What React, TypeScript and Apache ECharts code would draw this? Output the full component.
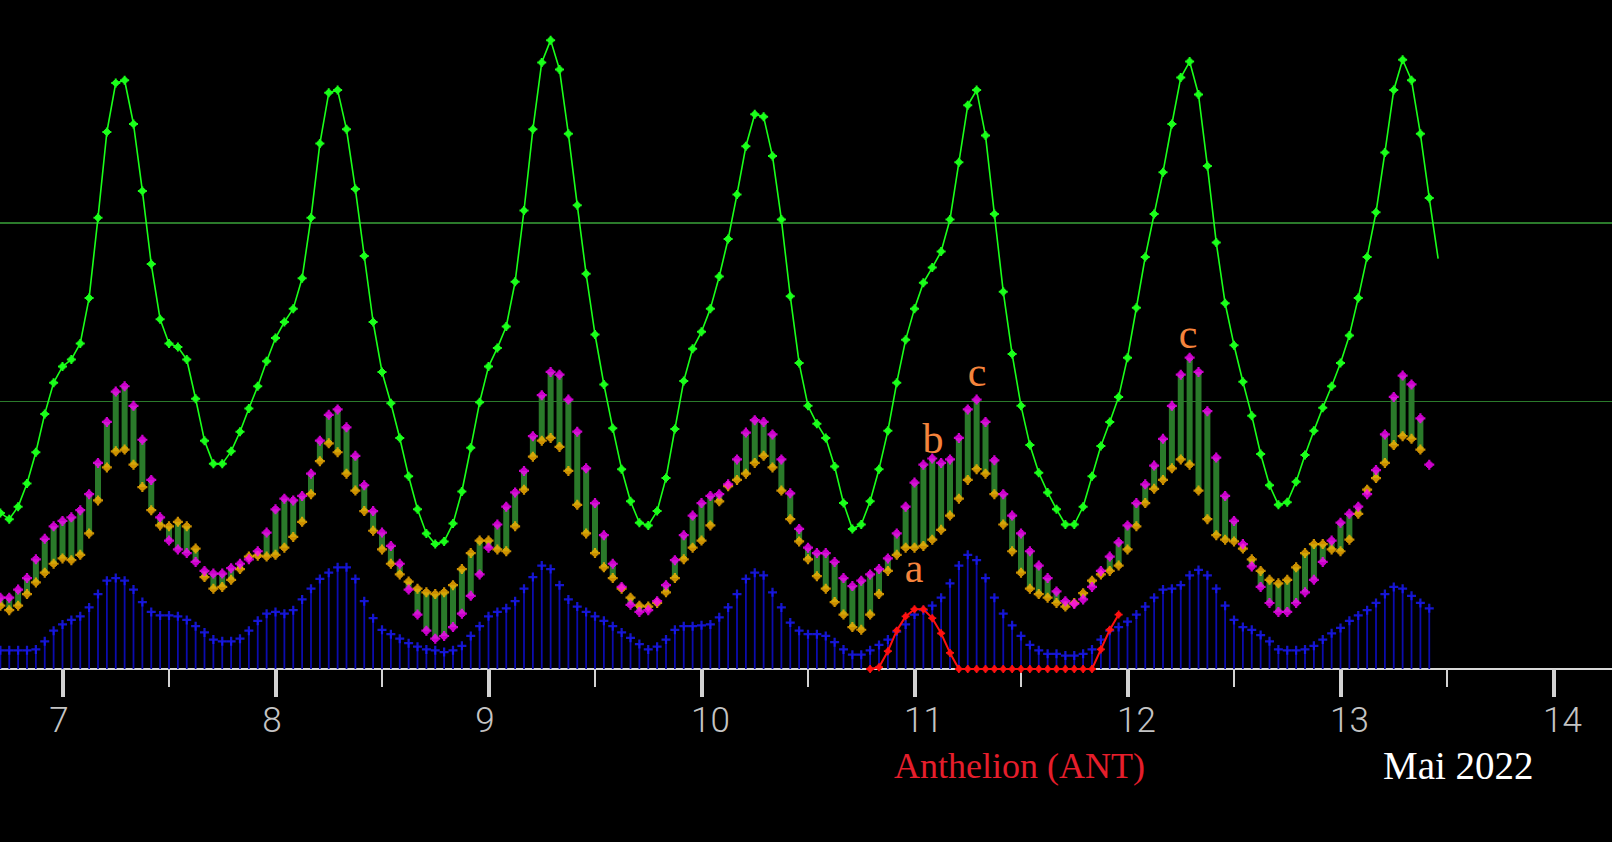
import React, { useEffect, useRef } from 'react';
import * as echarts from 'echarts';

// hourly samples, the first one at 6 May 17:00
const START_DAY = 6 + 17 / 24;
const STEP = 1 / 24;

const greenValues = [
  17.5, 16.8, 18.2, 20.8, 24.3, 28.6, 32.1, 33.9, 34.7, 36.5,
  41.6, 50.6, 60.2, 65.7, 66.0, 61.1, 53.6, 45.4, 39.2, 36.5,
  36.1, 34.7, 30.3, 25.6, 23.0, 23.0, 24.4, 26.6, 29.2, 31.7,
  34.5, 37.1, 38.9, 40.4, 43.8, 50.6, 58.9, 64.6, 64.9, 60.5,
  53.8, 46.3, 38.9, 33.3, 29.8, 25.9, 21.6, 17.9, 15.2, 14.0,
  14.3, 16.3, 19.9, 24.8, 29.9, 33.9, 36.0, 38.4, 43.4, 51.4,
  60.5, 68.0, 70.5, 67.2, 60.0, 52.0, 44.3, 37.5, 31.9, 27.0,
  22.4, 18.8, 16.4, 16.1, 17.7, 21.4, 26.9, 32.3, 35.9, 37.8,
  40.4, 44.0, 48.2, 53.2, 58.6, 62.2, 61.9, 57.5, 50.4, 41.8,
  34.3, 29.5, 27.5, 25.9, 22.7, 18.6, 15.7, 16.2, 18.8, 22.4,
  26.7, 32.1, 36.9, 40.4, 43.3, 45.0, 46.8, 50.4, 56.8, 63.2,
  64.9, 59.8, 51.0, 42.3, 35.3, 29.5, 25.1, 22.0, 19.8, 17.9,
  16.2, 16.2, 18.2, 21.6, 25.0, 27.7, 30.5, 34.9, 40.5, 46.2,
  51.0, 55.7, 61.1, 66.3, 68.1, 64.4, 56.4, 47.8, 41.0, 36.3,
  32.2, 28.4, 24.1, 20.6, 18.4, 18.7, 21.0, 24.0, 26.7, 29.3,
  31.7, 34.3, 37.4, 41.6, 46.2, 51.2, 57.9, 64.9, 68.3, 66.0,
  60.0, 52.8, 46.0,
];

const magentaValues = [
  8.0, 8.0, 8.9, 10.2, 12.3, 14.6, 16.0, 16.6, 17.0, 17.8,
  19.6, 23.1, 27.7, 31.1, 31.7, 29.5, 25.7, 21.2, 17.0, 14.4,
  13.4, 13.0, 12.0, 11.0, 10.7, 10.7, 11.3, 11.8, 12.3, 13.2,
  15.3, 17.9, 19.1, 18.9, 19.4, 21.9, 25.6, 28.5, 29.1, 27.1,
  23.9, 20.6, 17.7, 15.3, 13.8, 11.8, 8.9, 6.1, 4.3, 3.4,
  3.7, 4.7, 6.2, 8.2, 10.6, 13.6, 16.2, 18.2, 19.8, 22.2,
  26.1, 30.7, 33.3, 33.0, 30.2, 26.6, 22.5, 18.6, 15.0, 11.8,
  9.2, 7.2, 6.4, 6.6, 7.6, 9.4, 12.2, 15.0, 17.2, 18.6,
  19.4, 19.6, 20.7, 23.5, 26.5, 27.9, 27.7, 26.3, 23.5, 19.7,
  15.7, 13.6, 13.0, 13.0, 12.0, 10.2, 9.3, 9.9, 10.6, 11.2,
  12.4, 15.2, 18.2, 20.9, 22.9, 23.6, 23.1, 23.5, 25.9, 29.1,
  30.2, 27.7, 23.4, 19.6, 17.2, 15.2, 13.2, 11.6, 10.2, 8.7,
  7.6, 7.3, 7.8, 9.2, 11.0, 12.6, 14.2, 16.1, 18.6, 20.7,
  22.8, 25.8, 29.5, 33.0, 34.9, 33.3, 28.9, 23.7, 19.4, 16.6,
  14.0, 11.5, 9.2, 7.4, 6.4, 6.4, 7.4, 8.6, 10.0, 12.0,
  14.4, 16.4, 17.4, 18.2, 19.6, 22.3, 26.3, 30.5, 32.9, 31.9,
  28.1, 22.9,
];

const orangeValues: (number | null)[] = [
  7.1, 6.6, 7.1, 8.4, 9.7, 10.8, 11.8, 12.4, 12.2, 12.8,
  15.2, 18.9, 22.6, 24.4, 24.6, 22.9, 20.4, 17.8, 16.1, 16.0,
  16.5, 16.0, 13.5, 10.3, 9.0, 9.2, 10.0, 11.2, 12.6, 12.7,
  12.6, 12.8, 13.6, 14.8, 16.5, 19.6, 23.3, 25.3, 24.3, 21.9,
  20.0, 17.7, 15.5, 13.4, 11.8, 10.6, 9.8, 9.0, 8.6, 8.4,
  8.6, 9.4, 11.2, 13.0, 14.4, 14.4, 13.4, 13.2, 16.0, 20.1,
  23.8, 25.6, 25.9, 24.9, 22.2, 18.4, 15.2, 13.0, 11.4, 10.2,
  9.0, 8.0, 7.1, 7.0, 7.4, 8.6, 10.2, 12.3, 13.6, 14.4,
  16.1, 18.8, 20.5, 21.2, 21.9, 23.1, 23.9, 22.6, 20.0, 16.8,
  14.3, 12.3, 10.4, 9.0, 7.5, 6.1, 4.7, 4.4, 6.1, 8.4,
  11.0, 12.8, 13.6, 13.6, 13.8, 14.5, 15.6, 17.2, 19.1, 21.2,
  22.4, 21.9, 19.6, 16.2, 13.2, 10.8, 9.0, 8.4, 8.0, 7.4,
  7.0, 7.4, 8.5, 9.9, 10.6, 11.0, 11.6, 13.4, 16.0, 18.6,
  20.2, 21.2, 22.5, 23.5, 22.9, 20.0, 16.8, 15.0, 14.5, 14.3,
  13.5, 12.3, 11.0, 10.0, 9.6, 10.0, 11.4, 13.0, 14.0, 14.0,
  13.4, 13.2, 14.5, 17.4, 20.1, 21.4, 23.1, 25.1, 26.1, 25.8,
  24.6, null,
];

const blueValues = [
  2.1, 2.1, 2.1, 2.1, 2.2, 3.1, 4.3, 5.0, 5.5, 5.9,
  6.9, 8.4, 9.9, 10.2, 9.9, 8.9, 7.5, 6.4, 6.0, 6.0,
  5.9, 5.5, 4.8, 4.1, 3.3, 3.1, 3.1, 3.4, 4.3, 5.4,
  6.2, 6.4, 6.2, 6.6, 7.8, 9.0, 10.1, 10.8, 11.4, 11.4,
  10.1, 7.6, 5.7, 4.4, 3.9, 3.4, 2.9, 2.5, 2.2, 2.1,
  1.9, 2.1, 2.6, 3.7, 4.8, 5.9, 6.4, 6.8, 7.6, 9.0,
  10.3, 11.6, 11.2, 9.4, 7.8, 7.0, 6.4, 5.9, 5.4, 4.8,
  4.1, 3.5, 2.8, 2.2, 2.5, 3.3, 4.4, 4.8, 4.8, 4.9,
  5.0, 5.8, 6.9, 8.4, 10.1, 10.8, 10.5, 8.6, 6.9, 5.2,
  4.3, 3.9, 3.9, 3.7, 3.0, 2.2, 1.6, 1.6, 2.1, 2.7,
  3.3, 4.2, 5.0, 6.1, 6.6, 7.1, 8.0, 9.6, 11.6, 12.8,
  12.2, 10.2, 8.0, 6.2, 4.9, 3.7, 2.7, 2.1, 1.7, 1.7,
  1.5, 1.5, 1.7, 2.2, 3.3, 4.3, 4.7, 5.3, 6.1, 7.0,
  8.0, 8.9, 9.0, 9.4, 10.5, 11.1, 10.5, 9.0, 7.1, 5.5,
  4.7, 4.4, 3.8, 3.1, 2.2, 2.1, 2.1, 2.2, 2.6, 3.3,
  4.0, 4.6, 5.4, 6.0, 6.6, 7.4, 8.4, 9.2, 9.0, 8.2,
  7.4, 6.8,
];

// Anthelion (ANT): starts at the 98th hourly sample
const RED_START = 98;
const redValues = [
  0, 0.2, 2.0, 4.3, 5.9, 6.7, 6.7, 5.7, 4.0, 1.8,
  0, 0, 0, 0, 0, 0, 0, 0, 0, 0, 0, 0, 0, 0, 0, 0,
  2.2, 4.4, 6.1,
];

const dayTicks = [7, 8, 9, 10, 11, 12, 13, 14];
const halfDayTicks = [7.5, 8.5, 9.5, 10.5, 11.5, 12.5, 13.5];
const guideLevels = [50, 30];

const X_MIN = 6.7066;
const X_MAX = 14.2746;

const BLOB =
  'path://M3.5,0H5.5V1.5H6.5V2.5H7.5V3.5H9V5.5H7.5V6.5H6.5V7.5H5.5V9H3.5V7.5H2.5V6.5H1.5V5.5H0V3.5H1.5V2.5H2.5V1.5H3.5Z';
const PLUS = 'path://M3,0H5V3H8V5H5V8H3V5H0V3H3Z';

const t = (i: number) => START_DAY + i * STEP;

export default function App() {
  const ref = useRef<HTMLDivElement>(null);

  useEffect(() => {
    if (!ref.current) return;
    document.body.style.margin = '0';
    document.body.style.background = '#000';
    const chart = echarts.init(ref.current, null, { renderer: 'svg' });

    const greenData = greenValues.map((v, i) =>
      i === greenValues.length - 1 ? { value: [t(i), v], symbol: 'none' } : [t(i), v]
    );
    const magentaData = magentaValues.map((v, i) => [t(i), v]);
    const orangeData = orangeValues
      .map((v, i) => (v == null ? null : [t(i), v]))
      .filter((d) => d !== null);
    const rangeData = magentaValues
      .map((m, i) => (orangeValues[i] == null ? null : [t(i), orangeValues[i], m]))
      .filter((d) => d !== null);
    const blueData = blueValues.map((v, i) => [t(i), v]);
    const redData = redValues.map((v, k) => [t(RED_START + k), v]);

    const labelBase = {
      fontFamily: 'Roboto, "Liberation Sans", sans-serif',
      fontWeight: 300,
      fontSize: 35,
      lineHeight: 35,
      color: '#c4c4c4',
    };

    const serif = '"Liberation Serif", "DejaVu Serif", serif';
    const orange = '#f5843c';

    chart.setOption({
      animation: false,
      backgroundColor: '#000',
      grid: { left: 0, right: 0, top: 0, bottom: 173, containLabel: false },
      xAxis: [
        {
          type: 'value',
          min: X_MIN,
          max: X_MAX,
          position: 'bottom',
          splitLine: { show: false },
          axisLine: { show: true, lineStyle: { color: '#d8d8d8', width: 2 } },
          axisTick: {
            show: true,
            customValues: dayTicks,
            length: 28,
            lineStyle: { color: '#d2d2d2', width: 4 },
          },
          axisLabel: {
            show: true,
            customValues: dayTicks,
            margin: 34,
            formatter: (v: number) => {
              const s = String(Math.round(v));
              return s.length === 1 ? `{one|${s}}` : `{two|${s}}`;
            },
            rich: {
              one: { ...labelBase, padding: [0, 7, 0, 0] },
              two: { ...labelBase, padding: [0, 0, 0, 18] },
            },
          },
        },
        {
          type: 'value',
          min: X_MIN,
          max: X_MAX,
          position: 'bottom',
          offset: 0,
          splitLine: { show: false },
          axisLine: { show: false },
          axisLabel: { show: false },
          axisTick: {
            show: true,
            customValues: halfDayTicks,
            length: 18,
            lineStyle: { color: '#d2d2d2', width: 2 },
          },
        },
      ],
      yAxis: {
        type: 'value',
        min: 0,
        max: 75,
        show: false,
        splitLine: { show: false },
      },
      series: [
        {
          name: 'stems',
          type: 'custom',
          z: 2,
          data: blueData,
          encode: { x: 0, y: 1 },
          renderItem: (_p: any, api: any) => {
            const x = api.value(0);
            const top = api.coord([x, api.value(1)]);
            const base = api.coord([x, 0]);
            return {
              type: 'line',
              shape: { x1: top[0], y1: top[1], x2: base[0], y2: base[1] },
              style: { stroke: '#0c0cae', lineWidth: 1.8 },
            };
          },
        },
        {
          name: 'blue',
          type: 'scatter',
          z: 3,
          data: blueData,
          symbol: PLUS,
          symbolSize: 9,
          itemStyle: { color: '#1a1aff' },
          markLine: {
            silent: true,
            symbol: ['none', 'none'],
            label: { show: false },
            data: [
              { yAxis: guideLevels[0], lineStyle: { color: '#2b7a2b', width: 2, type: 'solid' } },
              { yAxis: guideLevels[1], lineStyle: { color: '#2b7a2b', width: 1.2, type: 'solid' } },
            ],
          },
        },
        {
          name: 'range',
          type: 'custom',
          z: 4,
          data: rangeData,
          encode: { x: 0, y: [1, 2] },
          renderItem: (_p: any, api: any) => {
            const x = api.value(0);
            const a = api.coord([x, api.value(1)]);
            const b = api.coord([x, api.value(2)]);
            const w = 6;
            return {
              type: 'rect',
              shape: {
                x: a[0] - w / 2,
                y: Math.min(a[1], b[1]),
                width: w,
                height: Math.abs(a[1] - b[1]),
              },
              style: { fill: '#2a7a2a' },
            };
          },
        },
        {
          name: 'orange',
          type: 'scatter',
          z: 5,
          data: orangeData,
          symbol: BLOB,
          symbolSize: 10,
          itemStyle: { color: '#ffb400' },
        },
        {
          name: 'magenta',
          type: 'scatter',
          z: 6,
          data: magentaData,
          symbol: BLOB,
          symbolSize: 10,
          itemStyle: { color: '#ff00ff' },
        },
        {
          name: 'green',
          type: 'line',
          z: 7,
          data: greenData,
          symbol: BLOB,
          symbolSize: 9,
          showSymbol: true,
          showAllSymbol: true,
          lineStyle: { color: '#1aff1a', width: 1.6 },
          itemStyle: { color: '#1aff1a' },
        },
        {
          name: 'ANT',
          type: 'line',
          z: 8,
          data: redData,
          symbol: BLOB,
          symbolSize: 8,
          showSymbol: true,
          showAllSymbol: true,
          lineStyle: { color: '#ff1010', width: 2 },
          itemStyle: { color: '#ff1010' },
        },
      ],
      graphic: [
        { type: 'text', z: 100, style: { text: 'a', x: 914, y: 568, font: `42px ${serif}`, fill: orange, textAlign: 'center', textVerticalAlign: 'middle' } },
        { type: 'text', z: 100, style: { text: 'b', x: 933, y: 439, font: `42px ${serif}`, fill: orange, textAlign: 'center', textVerticalAlign: 'middle' } },
        { type: 'text', z: 100, style: { text: 'c', x: 977, y: 372, font: `42px ${serif}`, fill: orange, textAlign: 'center', textVerticalAlign: 'middle' } },
        { type: 'text', z: 100, style: { text: 'c', x: 1188, y: 334, font: `42px ${serif}`, fill: orange, textAlign: 'center', textVerticalAlign: 'middle' } },
        { type: 'text', z: 100, style: { text: 'Anthelion (ANT)', x: 894, y: 766, font: `36px ${serif}`, fill: '#e51e2b', textAlign: 'left', textVerticalAlign: 'middle' } },
        { type: 'text', z: 100, style: { text: 'Mai 2022', x: 1383, y: 765, font: `39px ${serif}`, fill: '#ffffff', textAlign: 'left', textVerticalAlign: 'middle' } },
      ],
    });

    return () => chart.dispose();
  }, []);

  return (
    <div
      ref={ref}
      style={{ position: 'fixed', left: 0, top: 0, width: 1612, height: 842, background: '#000' }}
    />
  );
}
